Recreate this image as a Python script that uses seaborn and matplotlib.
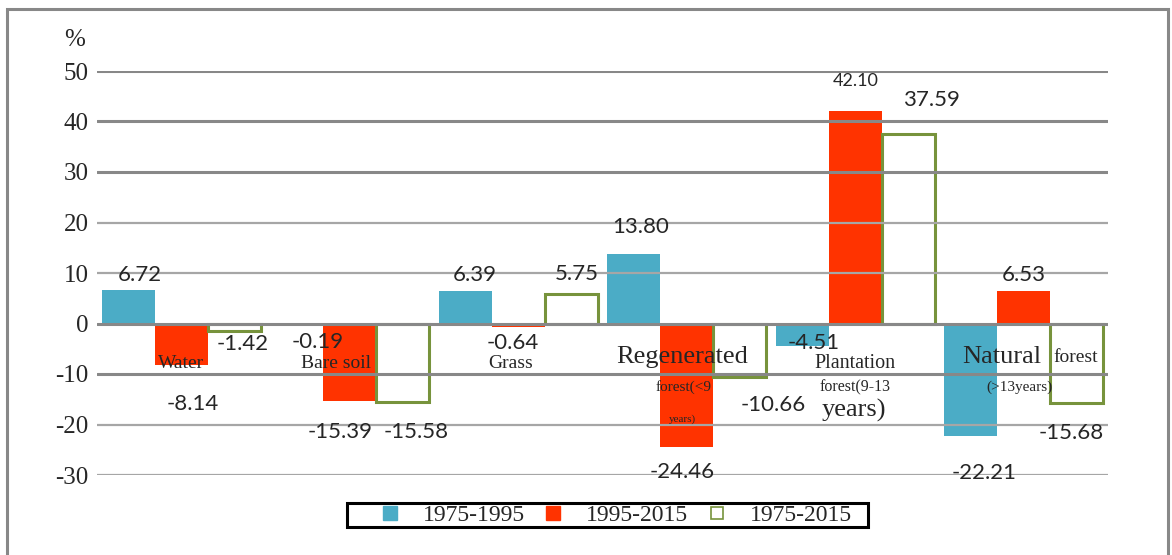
import numpy as np
import pandas as pd
import seaborn as sns
import matplotlib.pyplot as plt
from matplotlib.lines import Line2D
from matplotlib.patches import Rectangle

sns.set_style("white")
plt.rcParams['font.family'] = ['Liberation Serif', 'DejaVu Serif']
plt.rcParams['axes.unicode_minus'] = False

categories = ["Water", "Bare soil", "Grass", "Regenerated forest(<9 years)",
              "Plantation forest(9-13 years)", "Natural forest (>13years)"]
periods = ["1975-1995", "1995-2015", "1975-2015"]
change_75_95 = [6.72, -0.19, 6.39, 13.80, -4.51, -22.21]
change_95_15 = [-8.14, -15.39, -0.64, -24.46, 42.10, 6.53]
change_75_15 = [-1.42, -15.58, 5.75, -10.66, 37.59, -15.68]
y_ticks = [50, 40, 30, 20, 10, 0, -10, -20, -30]

colors = ["#4BACC6", "#FF3300", "#77933C"]

df = pd.DataFrame({
    "category": categories * 3,
    "period": np.repeat(periods, len(categories)),
    "change": change_75_95 + change_95_15 + change_75_15,
})

fig = plt.figure(figsize=(11.72, 5.55), dpi=100)
ax = fig.add_axes([97 / 1172, 80 / 555, 1011 / 1172, 404 / 555])

sns.barplot(data=df, x="category", y="change", hue="period", order=categories,
            hue_order=periods, palette=colors[:2] + ["white"], saturation=1,
            width=0.945, gap=0, legend=False, ax=ax, linewidth=0)

# hollow bars for the whole period
for p in ax.containers[2]:
    p.set_facecolor("none")
    p.set_edgecolor(colors[2])
    p.set_linewidth(2.2)

ax.set_ylim(-30, 50)
ax.set_yticks(y_ticks)
ax.set_xlim(-0.5, 5.5)
ax.set_xticks([])
ax.set_xlabel("")
ax.set_ylabel("")
sns.despine(ax=ax, left=True, bottom=True)
ax.tick_params(axis="y", length=0, pad=6, labelsize=18)
ax.set_axisbelow(False)
ax.yaxis.grid(True, color="#888888", linewidth=2.2)
for val, gl in zip(ax.get_yticks(), ax.get_ygridlines()):
    if val in (20, 10, -20, -30):
        gl.set_color("#a6a6a6")
        gl.set_linewidth(1.6)

# value labels (offsets in pixels, right / down)
label_offsets = [
    [(12, -15), (21, 18), (10, -16), (7, -27), (12, -3), (13, 37)],
    [(12, 39), (-10, 31), (-5, 16), (-5, 25), (0, -30), (0, -16)],
    [(8, 13), (13, 30), (5, -20), (33, 28), (23, -34), (-6, 30)],
]
series = [change_75_95, change_95_15, change_75_15]
for k, cont in enumerate(ax.containers):
    for j, p in enumerate(cont):
        v = series[k][j]
        xc = p.get_x() + p.get_width() / 2
        dx, dy = label_offsets[k][j]
        size = 13 if v > 40 else 16
        ax.annotate(f"{v:.2f}", (xc, v), xytext=(dx, -dy), textcoords="offset pixels",
                    ha="center", va="center", fontsize=size, family=["Lato", "DejaVu Sans"],
                    zorder=5, annotation_clip=False)

# category names drawn inside the plot, split like the original
cat_label_parts = [
    [("Water", 0.0, -7.85, 14)],
    [("Bare soil", -0.08, -7.85, 14)],
    [("Grass", -0.047, -7.85, 14)],
    [("Regenerated", -0.025, -6.66, 19), ("forest(<9", -0.02, -12.6, 11), ("years)", -0.025, -19.0, 8)],
    [("Plantation", 0.0, -7.85, 14.5), ("forest(9-13", 0.0, -12.6, 11.5), ("years)", -0.01, -17.2, 19)],
    [("Natural", -0.13, -6.66, 19), ("forest", 0.31, -6.66, 14), ("(>13years)", -0.028, -12.6, 11)],
]
for i, parts in enumerate(cat_label_parts):
    for text, dx, y, size in parts:
        ax.text(i + dx, y, text, ha="center", va="center", fontsize=size, zorder=5)

fig.text(75 / 1172, (555 - 40) / 555, "%", ha="center", va="center", fontsize=18)

handles = [
    Line2D([], [], marker="s", linestyle="", markersize=10, color=colors[0]),
    Line2D([], [], marker="s", linestyle="", markersize=10, color=colors[1]),
    Line2D([], [], marker="s", linestyle="", markersize=8.5, markerfacecolor="white",
           markeredgecolor=colors[2], markeredgewidth=1.2),
]
fig.legend(handles, periods, loc="center", bbox_to_anchor=(615 / 1172, 0.072), ncol=3,
           frameon=False, fontsize=17, handlelength=1, handletextpad=0.89,
           columnspacing=0.72, borderpad=0, borderaxespad=0)
fig.patches.append(Rectangle((347 / 1172, 28 / 555), 521 / 1172, 24 / 555,
                             transform=fig.transFigure, fill=False, edgecolor="black",
                             linewidth=2.2))
fig.patches.append(Rectangle((7 / 1172, -0.1), 1161 / 1172, 0.1 + 546 / 555,
                             transform=fig.transFigure, fill=False, edgecolor="#888888",
                             linewidth=2.2))

plt.savefig("out.png", dpi=100)
